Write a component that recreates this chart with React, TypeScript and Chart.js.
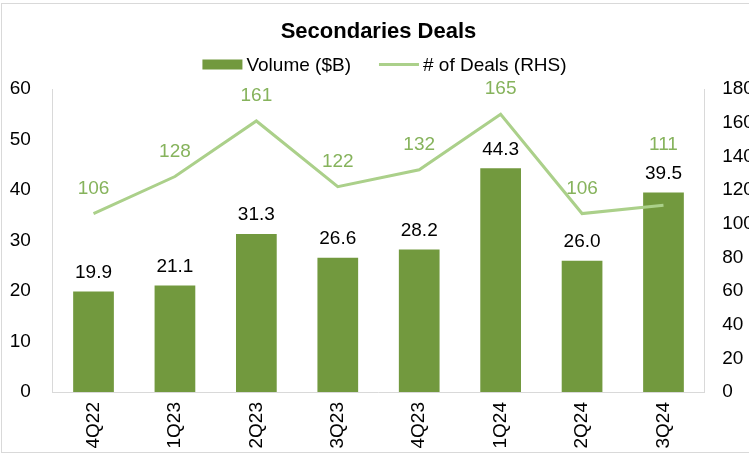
import React, { useEffect, useRef } from "react";
import { Chart, registerables } from "chart.js";

Chart.register(...registerables);

// ---- data ----
const chartTitle = "Secondaries Deals";
const categories = ["4Q22", "1Q23", "2Q23", "3Q23", "4Q23", "1Q24", "2Q24", "3Q24"];
const volumeLabel = "Volume ($B)";
const volume = [19.9, 21.1, 31.3, 26.6, 28.2, 44.3, 26.0, 39.5];
const dealsLabel = "# of Deals (RHS)";
const deals = [106, 128, 161, 122, 132, 165, 106, 111];
const leftAxis = { min: 0, max: 60, step: 10 };
const rightAxis = { min: 0, max: 180, step: 20 };

// ---- styles ----
const FONT = "'Liberation Sans', Arial, Helvetica, sans-serif";
const BAR_COLOR = "#72993e";
const LINE_COLOR = "#abd08a";
const LINE_LABEL_COLOR = "#86b35c";
const BORDER_COLOR = "#d9d9d9";
// vertical pixel shift of each deals label relative to its point (style only)
const dealsLabelShift = [-25, -25, -25, -25, -25, -25, -25, -60];

const decorPlugin = {
  id: "decor",
  beforeDraw(chart: any) {
    const ctx = chart.ctx;
    const area = chart.chartArea;
    ctx.save();
    ctx.fillStyle = "#ffffff";
    ctx.fillRect(0, 0, chart.width, chart.height);
    ctx.strokeStyle = BORDER_COLOR;
    ctx.lineWidth = 1;
    ctx.strokeRect(1.5, 3.5, chart.width + 20, 449);

    // title
    const cx = (area.left + area.right) / 2;
    ctx.fillStyle = "#000";
    ctx.font = `bold 22px ${FONT}`;
    ctx.textAlign = "center";
    ctx.textBaseline = "middle";
    ctx.fillText(chartTitle, cx, 32);

    // legend
    ctx.font = `19px ${FONT}`;
    const sw = 40;
    const gap = 4;
    const between = 28;
    const w1 = ctx.measureText(volumeLabel).width;
    const w2 = ctx.measureText(dealsLabel).width;
    const total = sw + gap + w1 + between + sw + gap + w2;
    let x = cx + 6 - total / 2;
    const ly = 64.5;
    ctx.fillStyle = BAR_COLOR;
    ctx.fillRect(x, ly - 5, sw, 10);
    x += sw + gap;
    ctx.fillStyle = "#000";
    ctx.textAlign = "left";
    ctx.fillText(volumeLabel, x, ly + 1);
    x += w1 + between;
    ctx.strokeStyle = LINE_COLOR;
    ctx.lineWidth = 3;
    ctx.beginPath();
    ctx.moveTo(x, ly);
    ctx.lineTo(x + sw, ly);
    ctx.stroke();
    x += sw + gap;
    ctx.fillStyle = "#000";
    ctx.fillText(dealsLabel, x, ly + 1);
    ctx.restore();
  },
  afterDatasetsDraw(chart: any) {
    const ctx = chart.ctx;
    ctx.save();
    ctx.font = `19px ${FONT}`;
    ctx.textAlign = "center";
    ctx.textBaseline = "middle";
    const barMeta = chart.getDatasetMeta(0);
    barMeta.data.forEach((el: any, i: number) => {
      ctx.fillStyle = "#000";
      ctx.fillText(volume[i].toFixed(1), el.x, el.y - 19);
    });
    const lineMeta = chart.getDatasetMeta(1);
    lineMeta.data.forEach((el: any, i: number) => {
      ctx.fillStyle = LINE_LABEL_COLOR;
      ctx.fillText(String(deals[i]), el.x, el.y + dealsLabelShift[i]);
    });
    ctx.restore();
  },
};

export default function App() {
  const ref = useRef<HTMLCanvasElement | null>(null);

  useEffect(() => {
    document.body.style.margin = "0";
    if (!ref.current) return;
    const chart = new Chart(ref.current, {
      type: "bar",
      data: {
        labels: categories,
        datasets: [
          {
            type: "bar",
            label: volumeLabel,
            data: volume,
            backgroundColor: BAR_COLOR,
            yAxisID: "y",
            categoryPercentage: 1,
            barPercentage: 0.5,
            order: 2,
          },
          {
            type: "line",
            label: dealsLabel,
            data: deals,
            borderColor: LINE_COLOR,
            backgroundColor: LINE_COLOR,
            borderWidth: 3,
            pointRadius: 0,
            tension: 0,
            yAxisID: "y1",
            order: 1,
          } as any,
        ],
      },
      options: {
        responsive: false,
        animation: false,
        devicePixelRatio: 1,
        layout: { padding: { top: 89, left: 0, right: 0, bottom: 0 } },
        plugins: {
          legend: { display: false },
          title: { display: false },
          tooltip: { enabled: false },
        },
        scales: {
          x: {
            grid: { display: false, drawTicks: false },
            border: { display: true, color: BORDER_COLOR, width: 1 },
            ticks: {
              font: { family: FONT, size: 19 },
              color: "#000",
              minRotation: 90,
              maxRotation: 90,
              autoSkip: false,
              padding: 10,
            },
            afterFit: (s: any) => {
              s.height = 63;
            },
          },
          y: {
            position: "left",
            min: leftAxis.min,
            max: leftAxis.max,
            grid: { display: false, drawTicks: false },
            border: { display: true, color: BORDER_COLOR, width: 1 },
            ticks: {
              stepSize: leftAxis.step,
              font: { family: FONT, size: 19 },
              color: "#000",
              padding: 22,
            },
            afterFit: (s: any) => {
              s.width = 52.8;
            },
          },
          y1: {
            position: "right",
            min: rightAxis.min,
            max: rightAxis.max,
            grid: { display: false, drawTicks: false },
            border: { display: true, color: BORDER_COLOR, width: 1 },
            ticks: {
              stepSize: rightAxis.step,
              font: { family: FONT, size: 19 },
              color: "#000",
              padding: 18,
            },
            afterFit: (s: any) => {
              s.width = 44.8;
            },
          },
        },
      },
      plugins: [decorPlugin],
    });
    return () => chart.destroy();
  }, []);

  return (
    <div style={{ position: "absolute", left: 0, top: 0, width: 749, height: 455 }}>
      <canvas ref={ref} width={749} height={455} style={{ width: 749, height: 455, display: "block" }} />
    </div>
  );
}
